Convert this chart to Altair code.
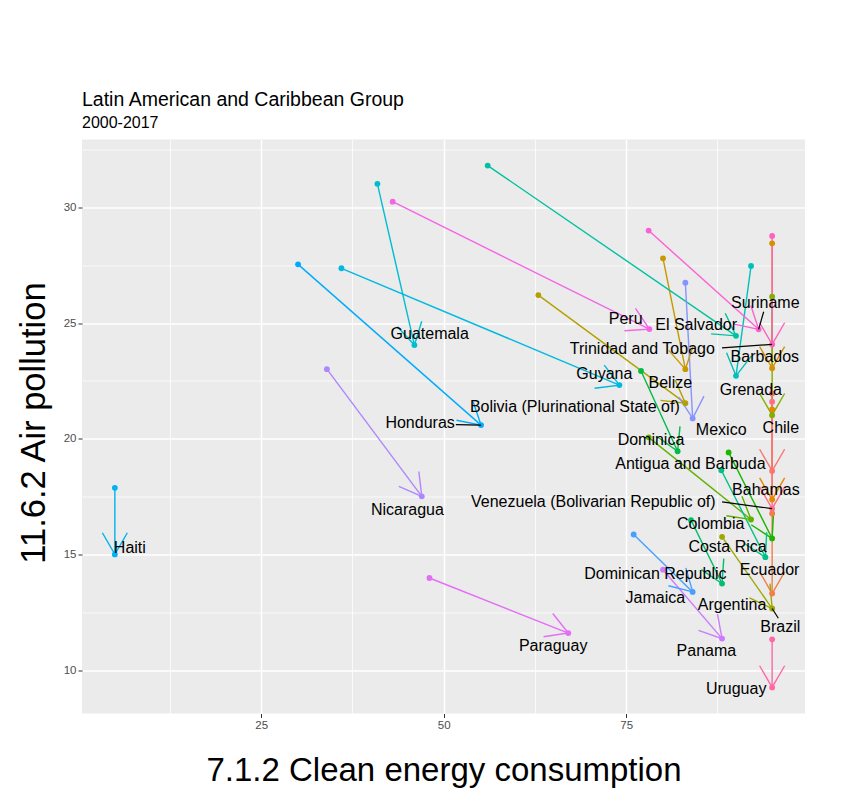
import math
import altair as alt
import pandas as pd

# ---------------- data ----------------
countries = [
    "Antigua and Barbuda", "Argentina", "Bahamas", "Barbados", "Belize",
    "Bolivia (Plurinational State of)", "Brazil", "Chile", "Colombia", "Costa Rica",
    "Dominica", "Dominican Republic", "Ecuador", "El Salvador", "Grenada", "Guatemala",
    "Guyana", "Haiti", "Honduras", "Jamaica", "Mexico", "Nicaragua", "Panama", "Paraguay",
    "Peru", "Suriname", "Trinidad and Tobago", "Uruguay", "Venezuela (Bolivarian Republic of)",
]
energy_2000 = [95, 95, 95, 95, 80.05, 62.97, 88.14, 95, 78.08, 89.04,
               77.04, 83.89, 88.04, 56.03, 92.11, 40.92, 35.99, 4.95, 30.05, 76.03,
               83.11, 34.0, 80.05, 48.05, 43.01, 78.08, 95, 95, 95]
air_2000 = [21.96, 16.77, 21.27, 28.45, 27.8, 26.21, 15.76, 26.14, 20.06, 19.41,
            22.93, 16.48, 18.64, 31.81, 27.47, 31.02, 27.37, 17.88, 27.54, 15.86,
            26.75, 23.01, 14.34, 13.98, 30.25, 29.0, 28.77, 11.33, 21.6]
energy_2017 = [95, 95, 95, 95, 83.11, 83.11, 95, 95, 92.11, 95,
               82.05, 88.14, 94.07, 90.05, 90.05, 45.99, 74.07, 4.95, 55.12, 84.11,
               84.11, 47.0, 88.14, 67.07, 78.18, 93.15, 95, 95, 95]
air_2017 = [18.61, 13.31, 17.37, 23.05, 23.01, 21.54, 12.66, 21.02, 16.51, 15.69,
            19.46, 13.74, 14.88, 24.45, 22.72, 24.05, 22.32, 15.0, 20.59, 13.38,
            20.88, 17.51, 11.36, 11.6, 24.74, 24.73, 24.08, 9.25, 16.98]
# repelled label positions
label_x = [83.8, 89.51, 94.14, 94.0, 81.05, 67.97, 96.12, 96.19, 86.58, 88.89,
           78.4, 79.0, 94.66, 84.59, 92.08, 48.08, 72.01, 7.0, 46.77, 79.0,
           88.02, 45.03, 85.99, 65.0, 74.93, 94.07, 77.22, 90.07, 70.5]
label_y = [18.9, 12.8, 17.78, 23.54, 22.42, 21.36, 11.86, 20.47, 16.33, 15.3,
           19.94, 14.17, 14.31, 24.92, 22.1, 24.51, 22.78, 15.29, 20.69, 13.13,
           20.37, 16.91, 10.81, 11.03, 25.18, 25.85, 23.88, 9.19, 17.26]
# leader segments of the repelled labels
leader_countries = ["Honduras", "Trinidad and Tobago", "Suriname",
                    "Venezuela (Bolivarian Republic of)", "Brazil"]
leader_x = [51.67, 88.14, 93.84, 88.14, 95.85]
leader_y = [20.61, 23.93, 25.49, 17.27, 12.24]

x_ticks = [12.5, 25, 37.5, 50, 62.5, 75, 87.5]
y_ticks = [10, 12.5, 15, 17.5, 20, 22.5, 25, 27.5, 30, 32.5]

# ---------------- ggplot-like hue palette ----------------
def hcl_hex(h, c=100.0, l=65.0):
    hr = math.radians(h)
    u, v = c * math.cos(hr), c * math.sin(hr)
    Xn, Yn, Zn = 95.047, 100.0, 108.883
    Y = Yn * ((l + 16) / 116) ** 3
    den = Xn + 15 * Yn + 3 * Zn
    un, vn = 4 * Xn / den, 9 * Yn / den
    up, vp = u / (13 * l) + un, v / (13 * l) + vn
    X = 9 * Y * up / (4 * vp)
    Z = Y * (12 - 3 * up - 20 * vp) / (4 * vp)
    X, Y, Z = X / 100, Y / 100, Z / 100
    rgb = [3.240479 * X - 1.537150 * Y - 0.498535 * Z,
           -0.969256 * X + 1.875992 * Y + 0.041556 * Z,
           0.055648 * X - 0.204043 * Y + 1.057311 * Z]
    out = []
    for ch in rgb:
        ch = 12.92 * ch if ch <= 0.0031308 else 1.055 * ch ** (1 / 2.4) - 0.055
        out.append(int(round(min(max(ch, 0), 1) * 255)))
    return "#%02X%02X%02X" % tuple(out)

n = len(countries)
palette = [hcl_hex((15 + 360 * i / n) % 360) for i in range(n)]

# ---------------- layout ----------------
W, H = 723, 574
allx = energy_2000 + energy_2017
ally = air_2000 + air_2017
xr = max(allx) - min(allx)
yr = max(ally) - min(ally)
xdom = [min(allx) - 0.05 * xr, max(allx) + 0.05 * xr]
ydom = [min(ally) - 0.05 * yr, max(ally) + 0.05 * yr]
sx = W / (xdom[1] - xdom[0])
sy = H / (ydom[1] - ydom[0])

df = pd.DataFrame({
    "country": countries,
    "e0": energy_2000, "a0": air_2000,
    "e1": energy_2017, "a1": air_2017,
    "lx": label_x, "ly": label_y,
})
ang = []
for e0, a0, e1, a1 in zip(energy_2000, air_2000, energy_2017, air_2017):
    dx = (e1 - e0) * sx
    dy = -(a1 - a0) * sy
    ang.append(math.degrees(math.atan2(dx, -dy)) % 360)
df["ang"] = ang

pts = pd.concat([
    pd.DataFrame({"country": countries, "e": energy_2000, "a": air_2000}),
    pd.DataFrame({"country": countries, "e": energy_2017, "a": air_2017}),
])

lead = pd.DataFrame({"country": leader_countries, "lx": leader_x, "ly": leader_y})
lead = lead.merge(df[["country", "e1", "a1"]], on="country")

FONT = "Liberation Sans"
xtitle = "7.1.2 Clean energy consumption"
ytitle = "11.6.2 Air pollution"

xscale = alt.Scale(domain=xdom, nice=False, zero=False)
yscale = alt.Scale(domain=ydom, nice=False, zero=False)

xaxis = alt.Axis(
    values=x_ticks,
    labelExpr="datum.value % 25 == 0 ? datum.label : ''",
    gridWidth={"condition": {"test": "datum.value % 25 == 0", "value": 1.5}, "value": 0.75},
    tickOpacity={"condition": {"test": "datum.value % 25 == 0", "value": 1}, "value": 0},
    titleY=67, titleBaseline="alphabetic",
)
yaxis = alt.Axis(
    values=y_ticks,
    labelExpr="datum.value % 5 == 0 ? datum.label : ''",
    gridWidth={"condition": {"test": "datum.value % 5 == 0", "value": 1.5}, "value": 0.75},
    tickOpacity={"condition": {"test": "datum.value % 5 == 0", "value": 1}, "value": 0},
    titleX=-38, titleY=H / 2 - 4, titleBaseline="alphabetic", titleAlign="center",
    titleFontSize=34.5,
)


def X(field):
    return alt.X(field, type="quantitative", scale=xscale, axis=xaxis, title=xtitle)


def Y(field):
    return alt.Y(field, type="quantitative", scale=yscale, axis=yaxis, title=ytitle)


color = alt.Color("country:N", scale=alt.Scale(domain=countries, range=palette), legend=None)

segs = alt.Chart(df).mark_rule(strokeWidth=1.4).encode(
    x=X("e0"), y=Y("a0"), x2="e1:Q", y2="a1:Q", color=color)

ARROW = "M -0.5 0.866 L 0 0 L 0.5 0.866"
heads = alt.Chart(df).mark_point(
    shape=ARROW, size=2500, filled=False, strokeWidth=1.4, opacity=1
).encode(x=X("e1"), y=Y("a1"), angle=alt.Angle("ang:Q", scale=None), color=color)

dots = alt.Chart(pts).mark_circle(size=34, opacity=1).encode(
    x=X("e"), y=Y("a"), color=color)

leaders = alt.Chart(lead).mark_rule(color="black", strokeWidth=1.2).encode(
    x=X("lx"), y=Y("ly"), x2="e1:Q", y2="a1:Q")

labels = alt.Chart(df).mark_text(
    font=FONT, fontSize=16, color="black", align="center", baseline="middle"
).encode(x=X("lx"), y=Y("ly"), text="country:N")

chart = alt.layer(segs, heads, dots, leaders, labels).properties(
    width=W, height=H,
    background="white",
    autosize=alt.AutoSizeParams(type="none"),
    padding={"left": 74, "top": 131.5, "right": 40, "bottom": 86},
    title=alt.Title(
        "Latin American and Caribbean Group",
        subtitle="2000-2017",
        anchor="start", frame="group",
        font=FONT, fontSize=19.5, fontWeight="normal", color="black",
        subtitleFont=FONT, subtitleFontSize=16, subtitleColor="black",
        subtitlePadding=4, offset=8,
    ),
).configure_view(
    fill="#EBEBEB", strokeWidth=0
).configure_axis(
    domain=False,
    gridColor="white",
    labelFont=FONT, labelFontSize=11.5, labelColor="#4D4D4D", labelPadding=2,
    tickColor="#333333", tickSize=4,
    titleFont=FONT, titleFontSize=33, titleFontWeight="normal", titleColor="black",
)

chart.save("out.html", embed_options={"renderer": "svg", "actions": False})
